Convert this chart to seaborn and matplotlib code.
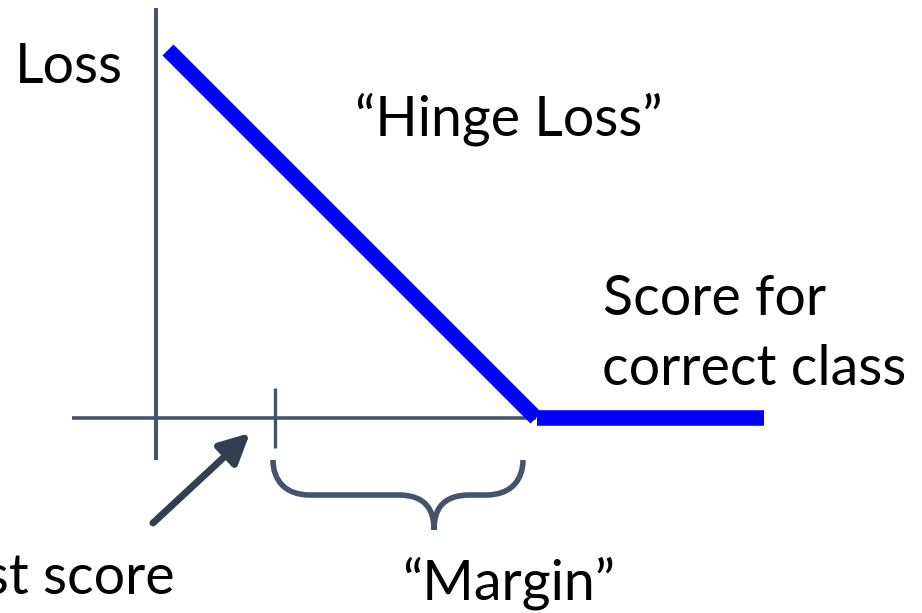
import numpy as np
import pandas as pd
import matplotlib
matplotlib.use("Agg")
import matplotlib.pyplot as plt
from matplotlib.path import Path
from matplotlib.patches import PathPatch
import seaborn as sns

# Hinge loss curve: a falling segment reaching zero at the margin, then flat
score = [0.12, 3.80, 3.81, 6.08]
loss = [3.68, 0.00, 0.00, 0.00]
piece = ["slope", "slope", "flat", "flat"]

# Score of the best competing class (marked on the score axis)
other_score = 1.19

labels = {
    "loss": "Loss",
    "title": "\u201cHinge Loss\u201d",
    "xlab1": "Score for",
    "xlab2": "correct class",
    "margin": "\u201cMargin\u201d",
    "other": "Highest score",
}

df = pd.DataFrame({"score": score, "loss": loss, "piece": piece})

sns.set_theme(style="white")
plt.rcParams["font.family"] = ["Lato", "DejaVu Sans"]

AXIS_C = "#44546A"
ARROW_C = "#333F50"
FS = 40

fig = plt.figure(figsize=(9.22, 6.13), dpi=100)
ax = fig.add_axes([0, 0, 1, 1])
ax.set_xlim(-1.56, 7.66)
ax.set_ylim(-1.95, 4.18)
ax.axis("off")

# hand-drawn style axes
ax.plot([0, 0], [-0.42, 4.10], color=AXIS_C, lw=2.9, solid_capstyle="butt")
ax.plot([-0.84, 3.80], [0, 0], color=AXIS_C, lw=2.6, solid_capstyle="butt")
ax.plot([other_score, other_score], [-0.30, 0.30], color=AXIS_C, lw=2.4,
        solid_capstyle="butt")

sns.lineplot(data=df, x="score", y="loss", units="piece", estimator=None,
             sort=False, color="#0000FF", lw=11.2, ax=ax, legend=False)
for ln in ax.lines[-2:]:
    ln.set_solid_capstyle("butt")

# curly brace under the margin
x0, x1, xm = other_score - 0.02, 3.67, 2.78
ytop, ymid, ybot = -0.42, -0.77, -1.12
r = 0.37
verts = [
    (x0, ytop), (x0, ytop - 0.2), (x0 + 0.12, ymid), (x0 + r, ymid),
    (xm - 0.36, ymid), (xm - 0.36, ymid),
    (xm - 0.08, ymid), (xm, ymid - 0.15), (xm, ybot),
    (xm, ymid - 0.15), (xm + 0.08, ymid), (xm + 0.36, ymid),
    (x1 - r, ymid), (x1 - r, ymid),
    (x1 - 0.12, ymid), (x1, ytop - 0.2), (x1, ytop),
]
codes = [Path.MOVETO, Path.CURVE4, Path.CURVE4, Path.CURVE4,
         Path.LINETO, Path.LINETO,
         Path.CURVE4, Path.CURVE4, Path.CURVE4,
         Path.CURVE4, Path.CURVE4, Path.CURVE4,
         Path.LINETO, Path.LINETO,
         Path.CURVE4, Path.CURVE4, Path.CURVE4]
ax.add_patch(PathPatch(Path(verts, codes), fill=False, ec=AXIS_C, lw=4.0,
                       capstyle="butt"))

# pointer to the competing score
ax.annotate("", xy=(0.94, -0.15), xytext=(-0.03, -1.05),
            arrowprops=dict(arrowstyle="-|>,head_length=18,head_width=9",
                            mutation_scale=1, lw=5, color=ARROW_C,
                            shrinkA=0, shrinkB=0))

txt = dict(fontsize=FS, va="baseline", color="black")
ax.text(-1.41, 3.35, labels["loss"], ha="left", **txt)
ax.text(1.99, 2.83, labels["title"], ha="left", **txt)
ax.text(4.47, 1.03, labels["xlab1"], ha="left", **txt)
ax.text(4.46, 0.33, labels["xlab2"], ha="left", **txt)
ax.text(3.53, -1.82, labels["margin"], ha="center", **txt)
ax.text(0.19, -1.75, labels["other"], ha="right", **txt)

fig.savefig("out.png", dpi=100, facecolor="white")
